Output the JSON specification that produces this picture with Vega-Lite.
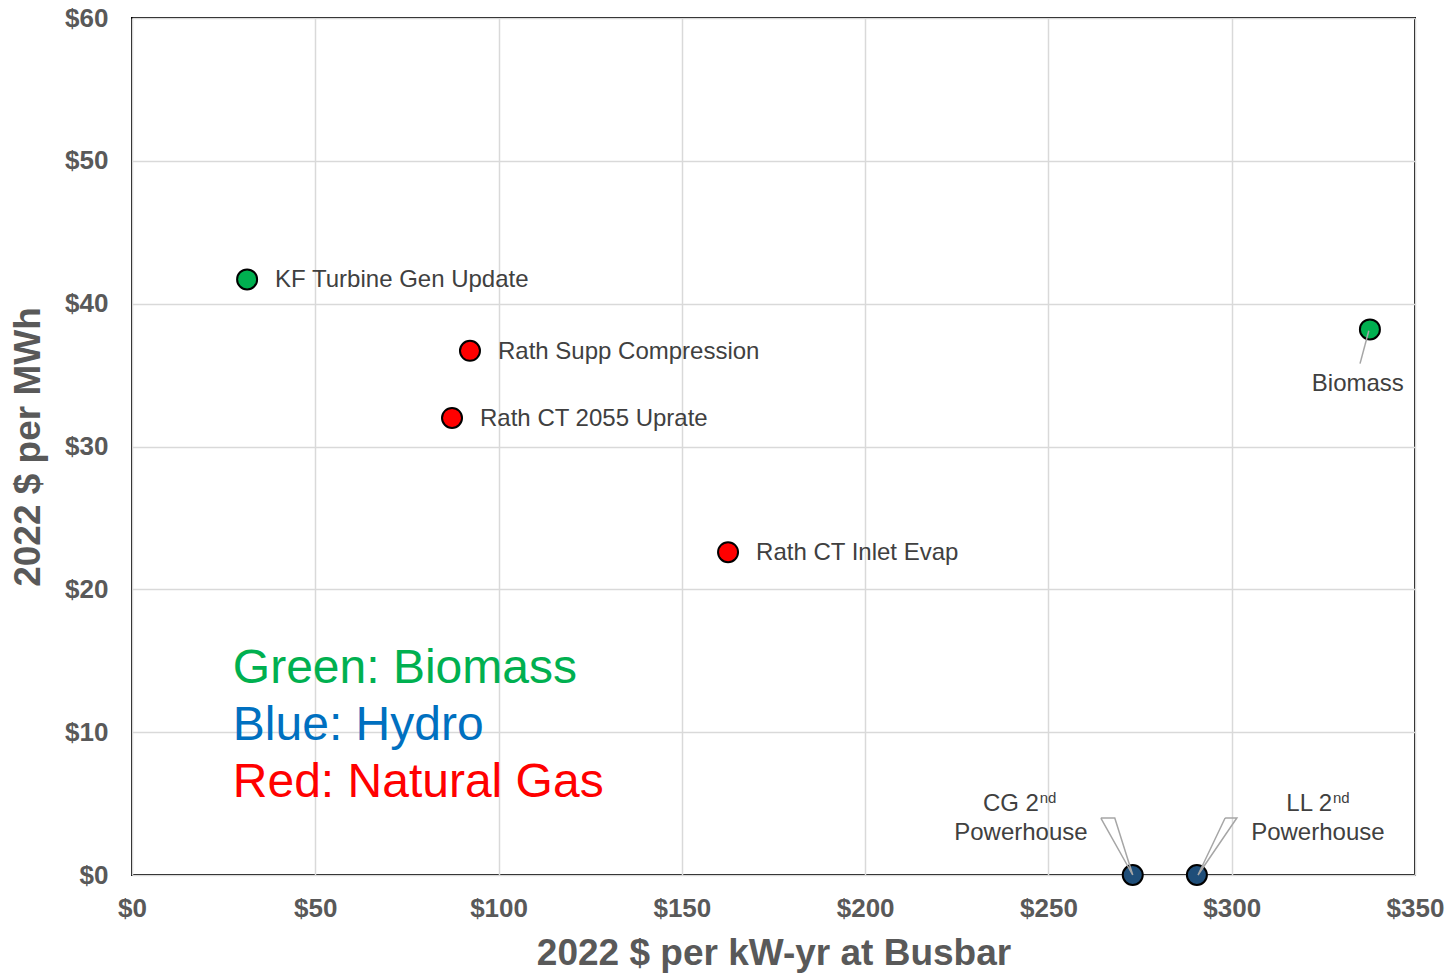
{
  "$schema": "https://vega.github.io/schema/vega-lite/v6.json",
  "width": 1283,
  "height": 857,
  "autosize": {"type": "none"},
  "padding": {"left": 132, "top": 18, "right": 34, "bottom": 99},
  "background": "white",
  "config": {
    "font": "Liberation Sans",
    "view": {"stroke": "black", "strokeWidth": 2},
    "axis": {
      "grid": true, "gridColor": "#d9d9d9", "gridWidth": 1.5,
      "domain": false, "ticks": false, "labelFlush": false, "labelOverlap": false, "labelBound": false,
      "labelFont": "Liberation Sans", "labelFontWeight": "bold", "labelFontSize": 26, "labelColor": "#595959",
      "titleFont": "Liberation Sans", "titleFontWeight": "bold", "titleFontSize": 37, "titleColor": "#595959"
    }
  },
  "layer": [
    {
      "data": {"values": [
        {"name": "KF Turbine Gen Update", "kw": 31.4, "mwh": 41.7, "type": "Biomass"},
        {"name": "Rath Supp Compression", "kw": 92.2, "mwh": 36.7, "type": "Natural Gas"},
        {"name": "Rath CT 2055 Uprate", "kw": 87.3, "mwh": 32.0, "type": "Natural Gas"},
        {"name": "Rath CT Inlet Evap", "kw": 162.6, "mwh": 22.6, "type": "Natural Gas"},
        {"name": "Biomass", "kw": 337.7, "mwh": 38.2, "type": "Biomass"},
        {"name": "CG 2nd Powerhouse", "kw": 273.0, "mwh": 0, "type": "Hydro"},
        {"name": "LL 2nd Powerhouse", "kw": 290.5, "mwh": 0, "type": "Hydro"}
      ]},
      "layer": [
        {
          "mark": {"type": "point", "shape": "circle", "filled": true, "size": 400, "stroke": "black", "strokeWidth": 2, "opacity": 1, "clip": false},
          "encoding": {
            "x": {"field": "kw", "type": "quantitative", "scale": {"domain": [0, 350], "nice": false}, "axis": {"values": [0, 50, 100, 150, 200, 250, 300, 350], "format": "$.0f", "labelPadding": 20, "title": "2022 $ per kW-yr at Busbar", "titlePadding": 14}},
            "y": {"field": "mwh", "type": "quantitative", "scale": {"domain": [0, 60], "nice": false}, "axis": {"values": [0, 10, 20, 30, 40, 50, 60], "format": "$.0f", "labelPadding": 24, "title": "2022 $ per MWh", "titlePadding": 17}},
            "color": {"field": "type", "type": "nominal", "scale": {"domain": ["Biomass", "Hydro", "Natural Gas"], "range": ["#00b050", "#1f4e79", "#ff0000"]}, "legend": null}
          }
        },
        {
          "transform": [{"filter": "datum.type != 'Hydro' && datum.name != 'Biomass'"}],
          "mark": {"type": "text", "align": "left", "baseline": "middle", "dx": 28, "dy": 1, "fontSize": 24, "color": "#404040"},
          "encoding": {
            "x": {"field": "kw", "type": "quantitative"},
            "y": {"field": "mwh", "type": "quantitative"},
            "text": {"field": "name"}
          }
        }
      ]
    },
    {
      "data": {"values": [
        {"x": 337.4, "y": 38.1, "x2": 335.0, "y2": 35.8}
      ]},
      "mark": {"type": "rule", "color": "#a6a6a6", "strokeWidth": 1.5},
      "encoding": {
        "x": {"field": "x", "type": "quantitative"},
        "y": {"field": "y", "type": "quantitative"},
        "x2": {"field": "x2"},
        "y2": {"field": "y2"}
      }
    },
    {
      "data": {"values": [
        {"g": "CG", "o": 1, "x": 264.3, "y": 3.99},
        {"g": "CG", "o": 2, "x": 268.1, "y": 3.99},
        {"g": "CG", "o": 3, "x": 273.0, "y": 0},
        {"g": "CG", "o": 4, "x": 264.3, "y": 3.99},
        {"g": "LL", "o": 1, "x": 298.2, "y": 3.99},
        {"g": "LL", "o": 2, "x": 301.4, "y": 3.99},
        {"g": "LL", "o": 3, "x": 290.8, "y": 0},
        {"g": "LL", "o": 4, "x": 298.2, "y": 3.99}
      ]},
      "mark": {"type": "line", "color": "#a6a6a6", "strokeWidth": 1.5},
      "encoding": {
        "x": {"field": "x", "type": "quantitative"},
        "y": {"field": "y", "type": "quantitative"},
        "detail": {"field": "g"},
        "order": {"field": "o"}
      }
    },
    {
      "data": {"values": [
        {"text": "Biomass", "x": 334.4, "y": 34.4},
        {"text": "Powerhouse", "x": 242.5, "y": 2.94},
        {"text": "Powerhouse", "x": 323.5, "y": 2.94}
      ]},
      "mark": {"type": "text", "align": "center", "baseline": "middle", "fontSize": 24, "color": "#404040"},
      "encoding": {
        "x": {"field": "x", "type": "quantitative"},
        "y": {"field": "y", "type": "quantitative"},
        "text": {"field": "text"}
      }
    },
    {
      "data": {"values": [
        {"text": "CG 2", "x": 247.4, "y": 4.97},
        {"text": "LL 2", "x": 327.4, "y": 4.97}
      ]},
      "mark": {"type": "text", "align": "right", "baseline": "middle", "fontSize": 24, "color": "#404040"},
      "encoding": {
        "x": {"field": "x", "type": "quantitative"},
        "y": {"field": "y", "type": "quantitative"},
        "text": {"field": "text"}
      }
    },
    {
      "data": {"values": [
        {"text": "nd", "x": 247.6, "y": 5.4},
        {"text": "nd", "x": 327.6, "y": 5.4}
      ]},
      "mark": {"type": "text", "align": "left", "baseline": "middle", "fontSize": 15, "color": "#404040"},
      "encoding": {
        "x": {"field": "x", "type": "quantitative"},
        "y": {"field": "y", "type": "quantitative"},
        "text": {"field": "text"}
      }
    },
    {
      "data": {"values": [
        {"text": "Green: Biomass", "x": 27.5, "y": 14.4, "c": "#00b050"},
        {"text": "Blue: Hydro", "x": 27.5, "y": 10.4, "c": "#0070c0"},
        {"text": "Red: Natural Gas", "x": 27.5, "y": 6.42, "c": "#ff0000"}
      ]},
      "mark": {"type": "text", "align": "left", "baseline": "middle", "fontSize": 48},
      "encoding": {
        "x": {"field": "x", "type": "quantitative"},
        "y": {"field": "y", "type": "quantitative"},
        "text": {"field": "text"},
        "color": {"field": "c", "type": "nominal", "scale": null}
      }
    }
  ]
}
